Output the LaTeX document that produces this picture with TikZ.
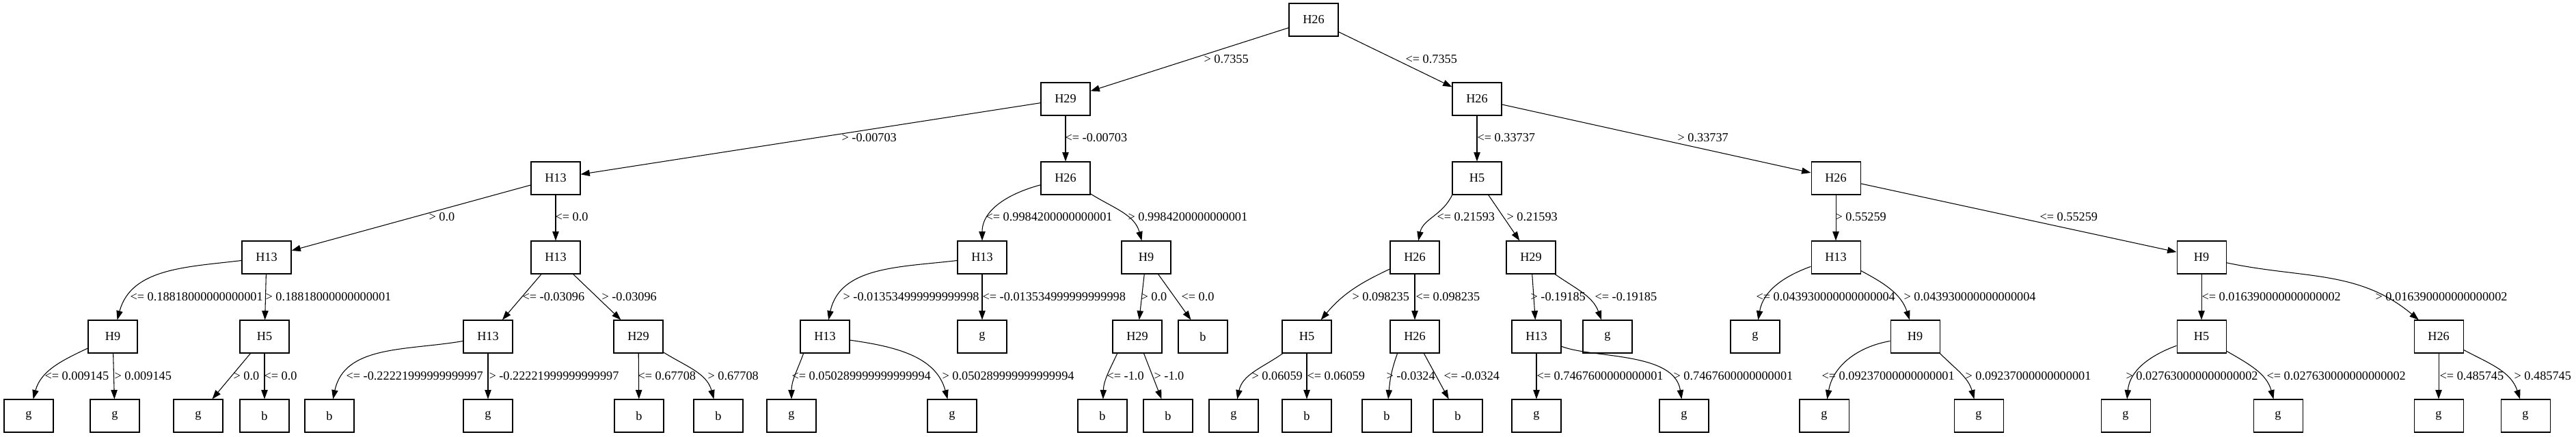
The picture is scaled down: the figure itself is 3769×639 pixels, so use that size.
\documentclass[tikz,border=0pt]{standalone}
\usepackage{fontspec}
\setmainfont{Liberation Serif}
\usetikzlibrary{arrows.meta}
\begin{document}
\begin{tikzpicture}[x=0.75pt,y=0.75pt,
    every node/.style={font=\fontsize{13.7}{16}\selectfont},
    box/.style={draw,line width=0.8pt,minimum width=54pt,minimum height=36pt,inner sep=0pt},
    lbl/.style={anchor=west,inner sep=0pt},
    arr/.style={-{Triangle[length=10pt,width=7pt]},line width=0.8pt}]
      \useasboundingbox (0,0) rectangle (3769,-639);
      \draw
        (1922,-29) node[box] (n0){H26}
        (1559,-145) node[box] (n1){H29}
        (813,-261) node[box] (n2){H13}
        (390,-377) node[box] (n3){H13}
        (165,-493) node[box] (n4){H9}
        (42,-609) node[box] (n5){g}
        (168,-609) node[box] (n6){g}
        (387,-493) node[box] (n7){H5}
        (290,-609) node[box] (n8){g}
        (387,-609) node[box] (n9){b}
        (813,-377) node[box] (n10){H13}
        (714,-493) node[box] (n11){H13}
        (482,-609) node[box] (n12){b}
        (714,-609) node[box] (n13){g}
        (934,-493) node[box] (n14){H29}
        (935,-609) node[box] (n15){b}
        (1051,-609) node[box] (n16){b}
        (1559,-261) node[box] (n17){H26}
        (1437,-377) node[box] (n18){H13}
        (1207,-493) node[box] (n19){H13}
        (1158,-609) node[box] (n20){g}
        (1393,-609) node[box] (n21){g}
        (1437,-493) node[box] (n22){g}
        (1677,-377) node[box] (n23){H9}
        (1664,-493) node[box] (n24){H29}
        (1613,-609) node[box] (n25){b}
        (1709,-609) node[box] (n26){b}
        (1760,-493) node[box] (n27){b}
        (2161,-145) node[box] (n28){H26}
        (2161,-261) node[box] (n29){H5}
        (2070,-377) node[box] (n30){H26}
        (1912,-493) node[box] (n31){H5}
        (1805,-609) node[box] (n32){g}
        (1912,-609) node[box] (n33){b}
        (2070,-493) node[box] (n34){H26}
        (2029,-609) node[box] (n35){b}
        (2133,-609) node[box] (n36){b}
        (2240,-377) node[box] (n37){H29}
        (2248,-493) node[box] (n38){H13}
        (2248,-609) node[box] (n39){g}
        (2464,-609) node[box] (n40){g}
        (2352,-493) node[box] (n41){g}
        (2686,-261) node[box] (n42){H26}
        (2686,-377) node[box] (n43){H13}
        (2568,-493) node[box] (n44){g}
        (2802,-493) node[box] (n45){H9}
        (2669,-609) node[box] (n46){g}
        (2895,-609) node[box] (n47){g}
        (3221,-377) node[box] (n48){H9}
        (3221,-493) node[box] (n49){H5}
        (3110,-609) node[box] (n50){g}
        (3333,-609) node[box] (n51){g}
        (3568,-493) node[box] (n52){H26}
        (3568,-609) node[box] (n53){g}
        (3695,-609) node[box] (n54){g};
      \begin{scope}[arr]
        \draw (n0) -- (n1) node[lbl] at (1761,-87) {> 0.7355};
        \draw (n0) -- (n28) node[lbl] at (2056,-87) {<= 0.7355};
        \draw (n1) -- (n2) node[lbl] at (1231,-202) {> -0.00703};
        \draw (n1) -- (n17) node[lbl] at (1558,-202) {<= -0.00703};
        \draw (n28) -- (n29) node[lbl] at (2161,-202) {<= 0.33737};
        \draw (n28) -- (n42) node[lbl] at (2454,-202) {> 0.33737};
        \draw (n2) -- (n3) node[lbl] at (627,-318) {> 0.0};
        \draw (n2) -- (n10) node[lbl] at (812,-318) {<= 0.0};
        \draw (n17) to[out=195,in=90] (n18) node[lbl] at (1442,-318) {<= 0.9984200000000001};
        \draw (n17) to[out=-32,in=105] (n23) node[lbl] at (1650,-318) {> 0.9984200000000001};
        \draw (n29.214) to[out=245,in=78] (n30) node[lbl] at (2102,-318) {<= 0.21593};
        \draw (n29) -- (n37) node[lbl] at (2204,-318) {> 0.21593};
        \draw (n42) -- (n43) node[lbl] at (2685,-318) {> 0.55259};
        \draw (n42) -- (n48) node[lbl] at (2984,-318) {<= 0.55259};
        \draw (n3) to[out=187,in=75] (n4) node[lbl] at (190,-435) {<= 0.18818000000000001};
        \draw (n3) -- (n7) node[lbl] at (388,-435) {> 0.18818000000000001};
        \draw (n10) -- (n11) node[lbl] at (764,-435) {<= -0.03096};
        \draw (n10) -- (n14) node[lbl] at (880,-435) {> -0.03096};
        \draw (n18) to[out=187,in=78] (n19) node[lbl] at (1233,-435) {> -0.013534999999999998};
        \draw (n18) -- (n22) node[lbl] at (1437,-435) {<= -0.013534999999999998};
        \draw (n23) -- (n24) node[lbl] at (1669,-435) {> 0.0};
        \draw (n23) -- (n27) node[lbl] at (1728,-435) {<= 0.0};
        \draw (n30) to[out=205,in=50] (n31) node[lbl] at (1978,-435) {> 0.098235};
        \draw (n30) -- (n34) node[lbl] at (2071,-435) {<= 0.098235};
        \draw (n37) -- (n38) node[lbl] at (2239,-435) {> -0.19185};
        \draw (n37) to[out=-35,in=110] (n41) node[lbl] at (2333,-435) {<= -0.19185};
        \draw (n43) to[out=200,in=80] (n44) node[lbl] at (2569,-435) {<= 0.043930000000000004};
        \draw (n43) to[out=-28,in=108] (n45) node[lbl] at (2785,-435) {> 0.043930000000000004};
        \draw (n48) -- (n49) node[lbl] at (3221,-435) {<= 0.016390000000000002};
        \draw (n48) to[out=-12,in=140] (n52) node[lbl] at (3475,-435) {> 0.016390000000000002};
        \draw (n4) to[out=205,in=75] (n5) node[lbl] at (65,-551) {<= 0.009145};
        \draw (n4) -- (n6) node[lbl] at (167,-551) {> 0.009145};
        \draw (n7) -- (n8) node[lbl] at (341,-551) {> 0.0};
        \draw (n7) -- (n9) node[lbl] at (386,-551) {<= 0.0};
        \draw (n11) to[out=190,in=78] (n12) node[lbl] at (506,-551) {<= -0.22221999999999997};
        \draw (n11) -- (n13) node[lbl] at (715,-551) {> -0.22221999999999997};
        \draw (n14) -- (n15) node[lbl] at (933,-551) {<= 0.67708};
        \draw (n14) to[out=-32,in=105] (n16) node[lbl] at (1035,-551) {> 0.67708};
        \draw (n19.218) to[out=250,in=90] (n20) node[lbl] at (1158,-551) {<= 0.050289999999999994};
        \draw (n19) to[out=-8,in=105] (n21) node[lbl] at (1378,-551) {> 0.050289999999999994};
        \draw (n24.220) to[out=245,in=88] (n25) node[lbl] at (1619,-551) {<= -1.0};
        \draw (n24) -- (n26) node[lbl] at (1688,-551) {> -1.0};
        \draw (n31) to[out=215,in=78] (n32) node[lbl] at (1831,-551) {> 0.06059};
        \draw (n31) -- (n33) node[lbl] at (1912,-551) {<= 0.06059};
        \draw (n34.224) to[out=250,in=85] (n35) node[lbl] at (2028,-551) {> -0.0324};
        \draw (n34) -- (n36) node[lbl] at (2112,-551) {<= -0.0324};
        \draw (n38) -- (n39) node[lbl] at (2248,-551) {<= 0.7467600000000001};
        \draw (n38) .. controls (2330,-525) and (2450,-515) .. (n40) node[lbl] at (2448,-551) {> 0.7467600000000001};
        \draw (n45) to[out=190,in=80] (n46) node[lbl] at (2665,-551) {<= 0.09237000000000001};
        \draw (n45.-34) to[out=-45,in=105] (n47) node[lbl] at (2875,-551) {> 0.09237000000000001};
        \draw (n49) to[out=200,in=85] (n50) node[lbl] at (3110,-551) {> 0.027630000000000002};
        \draw (n49) to[out=-30,in=105] (n51) node[lbl] at (3316,-551) {<= 0.027630000000000002};
        \draw (n52) -- (n53) node[lbl] at (3569,-551) {<= 0.485745};
        \draw (n52) to[out=-28,in=108] (n54) node[lbl] at (3678,-551) {> 0.485745};
      \end{scope}
    \end{tikzpicture}
\end{document}
